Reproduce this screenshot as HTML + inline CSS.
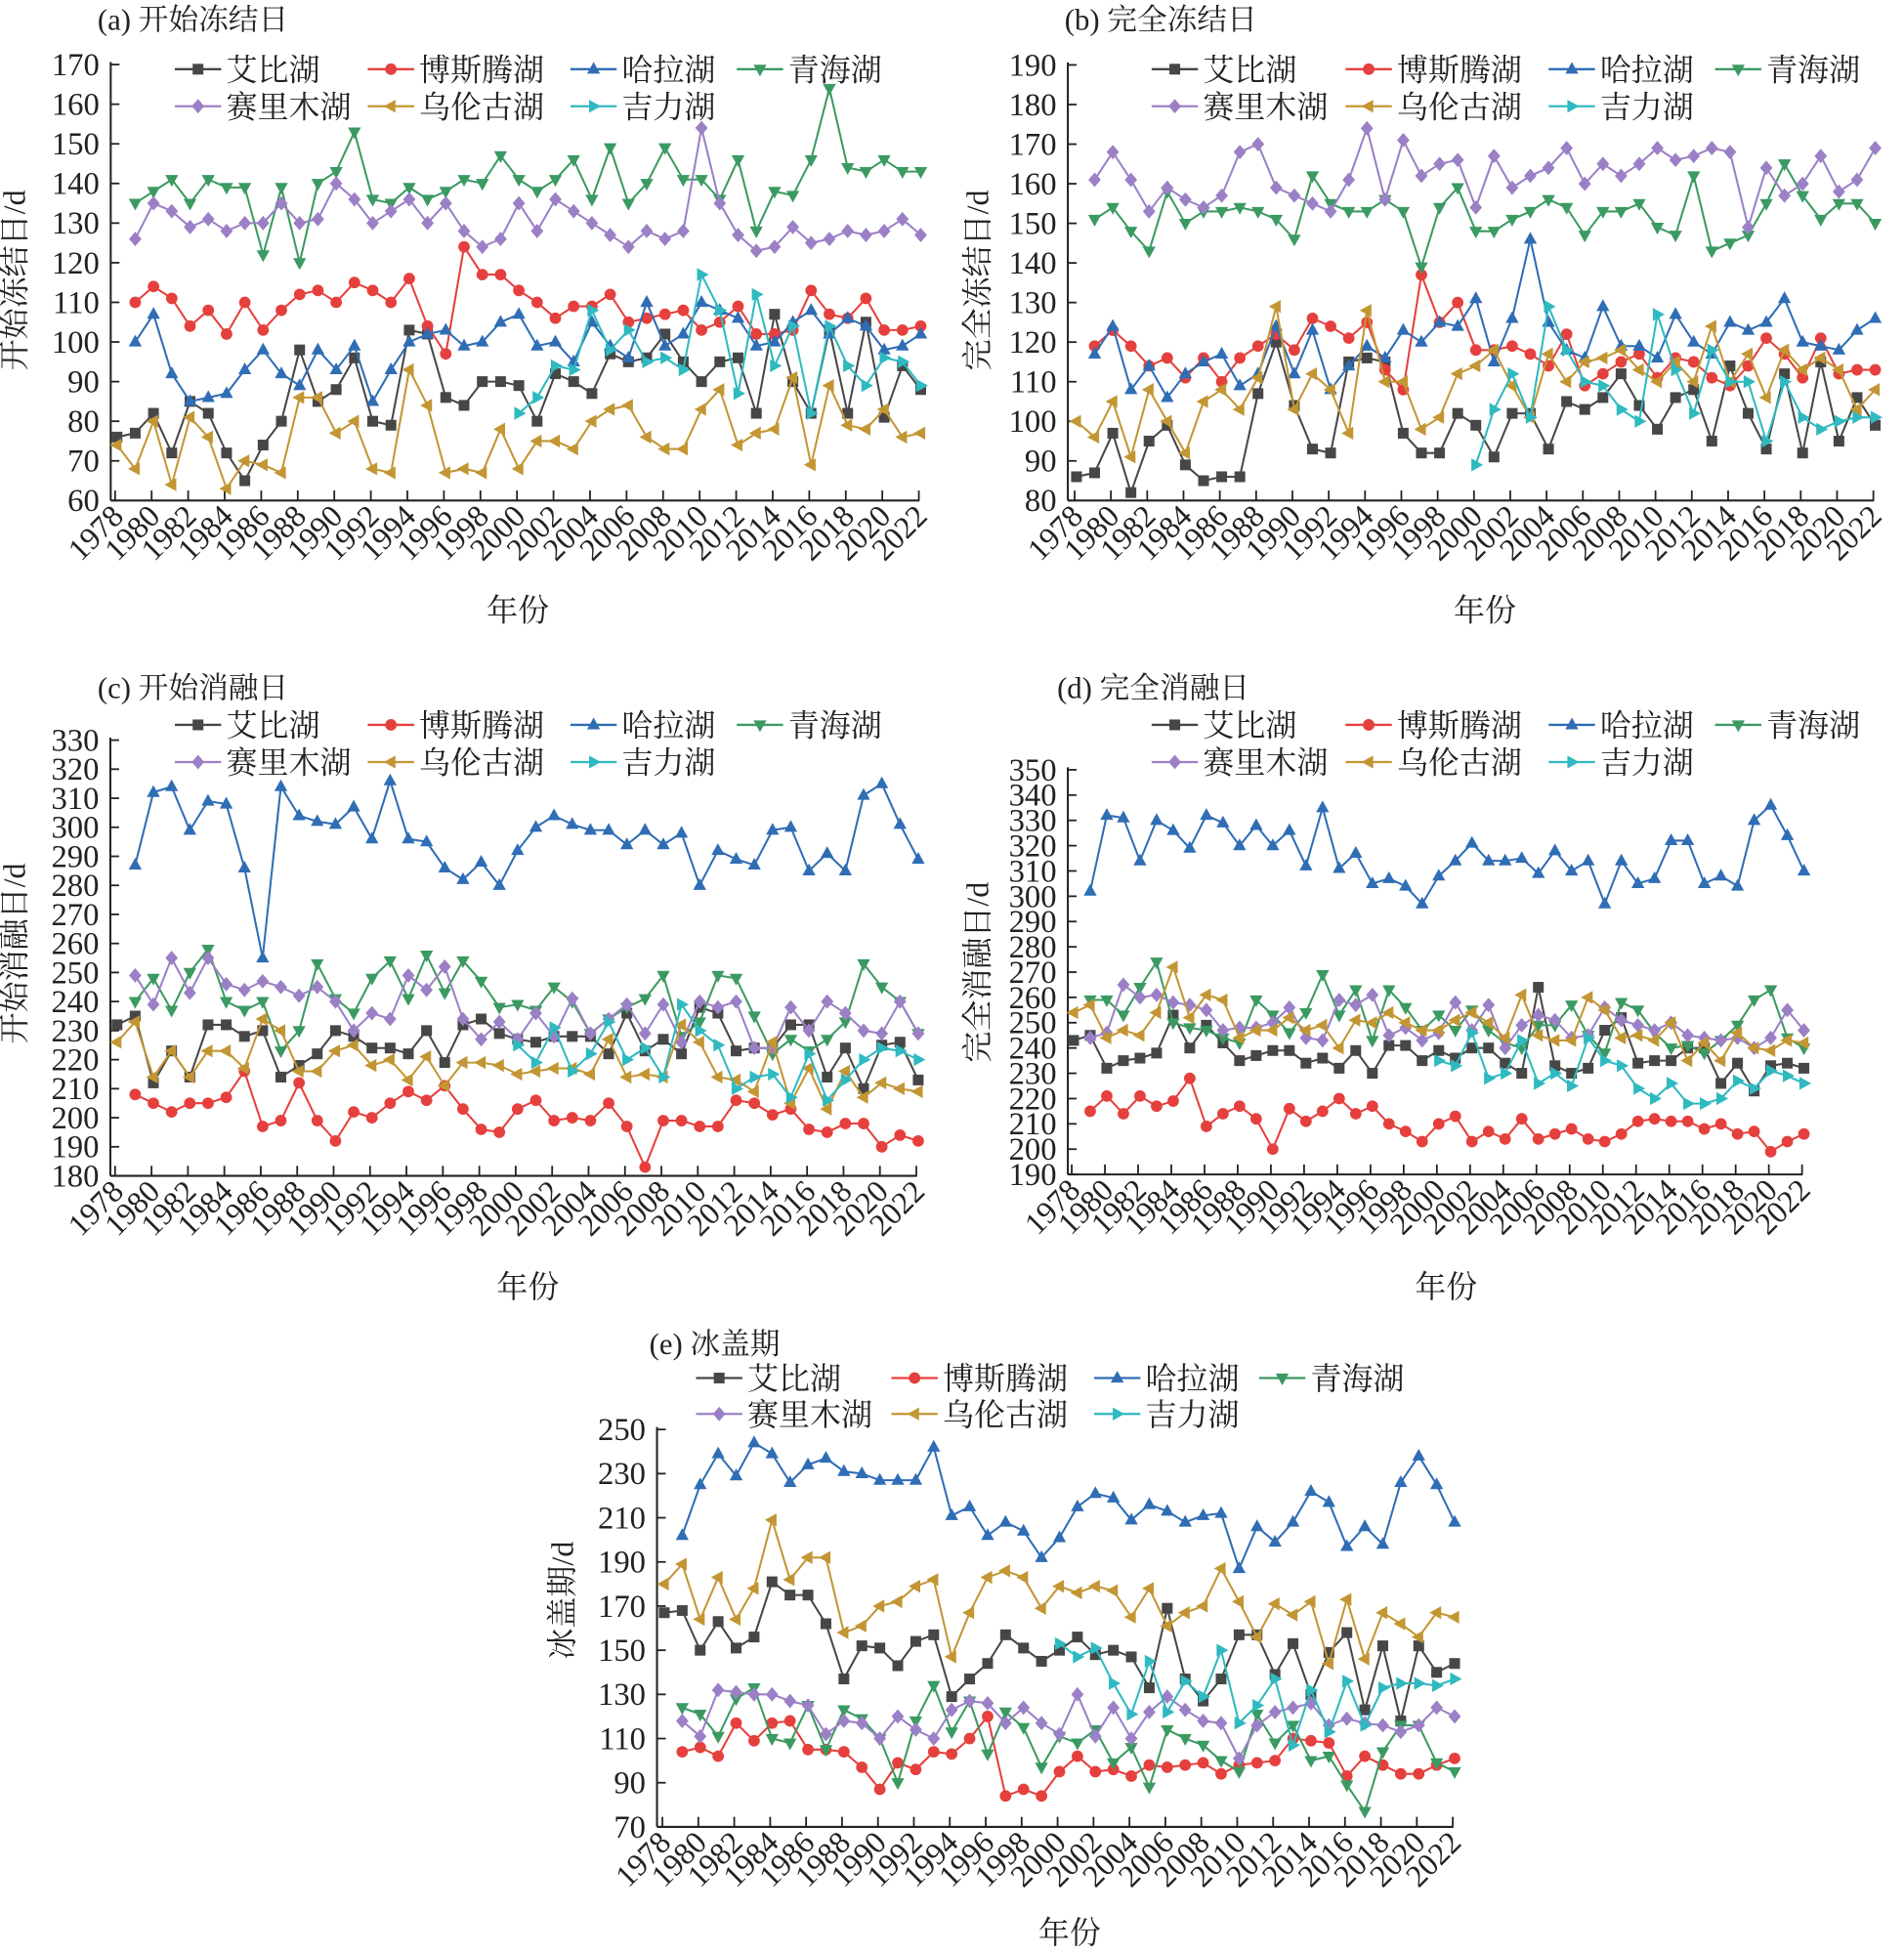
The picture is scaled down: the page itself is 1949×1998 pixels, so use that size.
<!DOCTYPE html>
<html><head><meta charset="utf-8">
<style>
html,body{margin:0;padding:0;background:#fff;}
svg{display:block;}
text{font-family:"Liberation Serif","Noto Serif CJK SC","Noto Sans CJK SC",serif;fill:#222;}
</style></head>
<body>
<svg id="s" xmlns="http://www.w3.org/2000/svg" width="1949" height="1998" viewBox="0 0 1522 1560" preserveAspectRatio="none">
<rect width="1522" height="1560" fill="#fff"/>
</svg>
<script>
var NS="http://www.w3.org/2000/svg";
var S=document.getElementById('s');
function el(t,a,p){var e=document.createElementNS(NS,t);for(var k in a)e.setAttribute(k,a[k]);(p||S).appendChild(e);return e;}
function tx(x,y,s,sz,anchor,tr){var e=el('text',{x:x,y:y,'font-size':sz,'text-anchor':anchor||'start'});if(tr)e.setAttribute('transform',tr);e.textContent=s;return e;}
var N=null;
var names=["艾比湖","博斯腾湖","哈拉湖","青海湖","赛里木湖","乌伦古湖","吉力湖"];
var cols=["#474747","#e5403d","#2f6db5","#3b9a62","#9b80c6","#c39634","#2fb9c0"];
var mk=["sq","ci","up","dn","di","lf","rt"];
function marker(x,y,t,c,g){
 if(t=="sq")el('rect',{x:x-4.3,y:y-4.3,width:8.6,height:8.6,fill:c},g);
 else if(t=="ci")el('circle',{cx:x,cy:y,r:4.6,fill:c},g);
 else{var p;
  if(t=="up")p=[[0,-5.8],[5.2,3.6],[-5.2,3.6]];
  if(t=="dn")p=[[0,5.8],[5.2,-3.6],[-5.2,-3.6]];
  if(t=="di")p=[[0,-5.8],[5,0],[0,5.8],[-5,0]];
  if(t=="lf")p=[[-5.8,0],[3.6,-5.2],[3.6,5.2]];
  if(t=="rt")p=[[5.8,0],[-3.6,-5.2],[-3.6,5.2]];
  el('polygon',{points:p.map(function(q){return (x+q[0])+","+(y+q[1]);}).join(" "),fill:c},g);}
}
function pad(start,arr){var r=[];for(var i=1978;i<start;i++)r.push(N);return r.concat(arr);}
function panel(o){
 var px=function(i){return o.x0+(o.x1-o.x0)*i/44;};
 var py=function(v){return o.yb+(v-o.vmin)*(o.yt-o.yb)/(o.vmax-o.vmin);};
 tx(o.tx,o.ty,o.title,24);
 var axEnd=px(44)-1;
 el('line',{x1:o.ax,y1:o.yt-2,x2:o.ax,y2:o.yb,stroke:"#222","stroke-width":1.6});
 el('line',{x1:o.ax,y1:o.yb,x2:axEnd,y2:o.yb,stroke:"#222","stroke-width":1.6});
 for(var v=o.vmin;v<=o.vmax;v+=o.step){var y=py(v);
  el('line',{x1:o.ax,y1:y,x2:o.ax+7,y2:y,stroke:"#222","stroke-width":1.4});
  tx(o.ax-9,y+8.5,String(v),25.5,"end");}
 for(var i=0;i<=44;i+=2){var x=px(i)-1.5;
  el('line',{x1:x,y1:o.yb,x2:x,y2:o.yb-8,stroke:"#222","stroke-width":1.4});
  tx(x+8,o.yb+14,String(1978+i),25,"end","rotate(-45 "+(x+8)+" "+(o.yb+14)+")");}
 tx(o.xlx,o.xly,"年份",25,"middle");
 tx(o.ylx,o.yly,o.ylab,25,"middle","rotate(-90 "+o.ylx+" "+o.yly+")");
 for(var s=0;s<7;s++){var d=o.data[s],pts=[];
  for(var i=0;i<45;i++)if(d[i]!==N&&d[i]!==undefined)pts.push([px(i),py(d[i])]);
  el('polyline',{points:pts.map(function(q){return q.join(",");}).join(" "),fill:"none",stroke:cols[s],"stroke-width":1.6});
  var g=el('g',{});
  pts.forEach(function(q){marker(q[0],q[1],mk[s],cols[s],g);});}
 for(var s=0;s<7;s++){var r=s<4?0:1,c=s%4;var lx=o.lg[c],ly=r?o.r2:o.r1;
  el('line',{x1:lx,y1:ly,x2:lx+37,y2:ly,stroke:cols[s],"stroke-width":1.8});
  marker(lx+18.5,ly,mk[s],cols[s]);
  tx(lx+41,ly+9,names[s],25);}
}
var A={title:"(a) 开始冻结日",tx:78,ty:24,ax:88.5,x0:93.5,x1:736,yt:51.6,yb:400,vmin:60,vmax:170,step:10,
 lg:[139.8,294,456,589],r1:55.3,r2:84.9,xlx:414,xly:496,ylx:20,yly:224,ylab:"开始冻结日/d",
 data:[
 [76,77,82,72,85,82,72,65,74,80,98,85,88,96,80,79,103,102,86,84,90,90,89,80,92,90,87,97,95,96,102,95,90,95,96,82,107,90,82,103,82,105,81,94,88],
 pad(1979,[110,114,111,104,108,102,110,103,108,112,113,110,115,113,110,116,104,97,124,117,117,113,110,106,109,109,112,105,106,107,108,103,105,109,102,102,103,113,107,106,111,103,103,104]),
 pad(1979,[100,107,92,85,86,87,93,98,92,89,98,93,99,85,93,100,102,103,99,100,105,107,99,100,95,105,99,96,110,99,102,110,108,106,99,100,105,108,102,106,104,98,99,102]),
 pad(1979,[135,138,141,135,141,139,139,122,139,120,140,143,153,136,135,139,136,138,141,140,147,141,138,141,146,136,149,135,140,149,141,141,136,146,128,138,137,146,164,144,143,146,143,143]),
 pad(1979,[126,135,133,129,131,128,130,130,135,130,131,140,136,130,133,136,130,135,128,124,126,135,128,136,133,130,127,124,128,126,128,154,135,127,123,124,129,125,126,128,127,128,131,127]),
 [74,68,80,64,81,76,63,70,69,67,86,86,77,80,68,67,93,84,67,68,67,78,68,75,75,73,80,83,84,76,73,73,83,88,74,77,78,91,69,89,79,78,83,76,77],
 pad(2000,[82,86,94,93,108,98,103,95,96,93,117,108,87,112,94,104,82,104,94,89,96,95,89])]};
var B={title:"(b) 完全冻结日",tx:851,ty:24,ax:853.6,x0:860.5,x1:1499,yt:51.9,yb:400,vmin:80,vmax:190,step:10,
 lg:[920.6,1075.6,1238,1371],r1:55.3,r2:84.9,xlx:1187,xly:496,ylx:790,yly:224,ylab:"完全冻结日/d",
 data:[
 [86,87,97,82,95,99,89,85,86,86,107,120,104,93,92,115,116,115,97,92,92,102,99,91,102,102,93,105,103,106,112,104,98,106,108,95,114,102,93,112,92,115,95,106,99],
 pad(1979,[119,123,119,114,116,111,116,110,116,119,122,118,126,124,121,125,113,108,137,125,130,118,118,119,117,114,122,109,112,115,117,111,116,115,111,109,114,121,117,111,121,112,113,113]),
 pad(1979,[117,124,108,114,106,112,115,117,109,112,124,112,123,108,114,119,116,123,120,125,124,131,115,126,146,125,118,116,129,119,119,116,127,120,117,125,123,125,131,120,119,118,123,126]),
 pad(1979,[151,154,148,143,158,150,153,153,154,153,151,146,162,155,153,153,156,153,139,154,159,148,148,151,153,156,154,147,153,153,155,149,147,162,143,145,147,155,165,157,151,155,155,150]),
 pad(1979,[161,168,161,153,159,156,154,157,168,170,159,157,155,153,161,174,156,171,162,165,166,154,167,159,162,164,169,160,165,162,165,169,166,167,169,168,149,164,157,160,167,158,161,169]),
 [100,96,105,91,108,100,92,105,108,103,111,129,103,112,108,97,128,110,110,98,101,112,114,118,109,101,117,110,115,116,118,113,110,115,110,124,110,117,106,118,113,116,113,103,108],
 pad(2000,[89,103,112,101,129,118,110,109,103,100,127,113,102,118,110,110,95,110,101,98,100,101,101])]};
var C={title:"(c) 开始消融日",tx:78,ty:558,ax:88.2,x0:93.5,x1:734,yt:591.5,yb:939.7,vmin:180,vmax:330,step:10,
 lg:[139.8,294,456,589],r1:579.3,r2:609,xlx:422,xly:1037,ylx:20,yly:762,ylab:"开始消融日/d",
 data:[
 [232,235,212,223,214,232,232,228,230,214,218,222,230,228,224,224,222,230,219,232,234,229,227,226,228,228,228,222,236,223,227,222,238,236,223,224,224,232,232,214,224,210,225,226,213],
 pad(1979,[208,205,202,205,205,207,216,197,199,212,199,192,202,200,205,209,206,211,203,196,195,203,206,199,200,199,205,197,183,199,199,197,197,206,205,201,203,196,195,198,198,190,194,192]),
 pad(1979,[287,312,314,299,309,308,286,255,314,304,302,301,307,296,316,296,295,286,282,288,280,292,300,304,301,299,299,294,299,294,298,280,292,289,287,299,300,285,291,285,311,315,301,289]),
 pad(1979,[240,248,237,250,258,240,237,240,223,230,253,241,236,248,254,241,256,243,254,247,238,239,237,245,240,229,234,238,241,249,228,233,249,248,235,222,227,223,227,233,253,245,240,229]),
 pad(1979,[249,239,255,243,255,246,244,247,245,242,245,240,230,236,234,249,244,252,234,227,233,227,236,228,241,229,234,239,229,239,226,240,238,240,224,224,238,230,240,236,230,229,240,229]),
 [226,233,214,223,214,223,223,217,234,230,216,216,223,225,218,220,213,221,211,219,219,218,215,216,217,217,215,227,214,215,214,232,226,214,213,209,226,205,217,203,216,207,212,210,209],
 pad(2000,[225,219,231,216,222,233,220,224,214,239,230,225,210,214,215,207,222,206,213,220,224,223,220])]};
var D={title:"(d) 完全消融日",tx:845,ty:558,ax:853.6,x0:858.2,x1:1442,yt:615.2,yb:938.6,vmin:190,vmax:350,step:10,
 lg:[920.6,1075.6,1238,1371],r1:579.3,r2:609,xlx:1156,xly:1037,ylx:790,yly:777,ylab:"完全消融日/d",
 data:[
 [243,245,232,235,236,238,253,240,249,242,235,237,239,239,234,236,232,239,230,241,241,235,239,236,240,240,234,230,264,233,230,232,247,252,234,235,235,240,240,226,234,223,233,234,232],
 pad(1979,[215,221,214,221,217,219,228,209,214,217,212,200,216,211,215,220,214,217,210,207,203,210,213,203,207,204,212,204,206,208,204,203,206,211,212,211,211,208,210,206,207,199,203,206]),
 pad(1979,[302,332,331,314,330,326,319,332,329,320,328,320,326,312,335,311,317,305,307,304,297,308,314,321,314,314,315,309,318,310,314,297,314,305,307,322,322,305,308,304,330,336,324,310]),
 pad(1979,[259,259,253,264,274,250,248,247,244,242,259,253,246,254,269,253,263,243,263,256,247,253,247,255,247,242,240,249,249,257,245,238,258,255,246,240,241,238,243,249,259,263,244,240]),
 pad(1979,[244,246,265,260,261,258,257,255,247,248,248,250,256,244,243,259,257,261,245,248,243,246,258,247,257,240,249,253,251,244,245,256,251,249,247,250,245,244,243,244,240,244,255,247]),
 [254,257,244,247,245,254,272,252,261,259,244,247,247,252,247,249,240,251,250,254,250,247,247,251,254,250,244,261,245,243,243,260,255,244,245,243,250,235,242,235,246,240,239,243,242],
 pad(2000,[235,233,246,228,230,243,226,230,225,244,235,233,224,220,226,218,218,220,227,224,231,229,226])]};
var E={title:"(e) 冰盖期",tx:519,ty:1082,ax:525.2,x0:531,x1:1162.8,yt:1142.4,yb:1460,vmin:70,vmax:250,step:20,
 lg:[556.4,712.6,874.6,1006.5],r1:1101.3,r2:1130,xlx:855,xly:1553,ylx:458,yly:1279,ylab:"冰盖期/d",
 data:[
 [167,168,150,163,151,156,181,175,175,162,137,152,151,143,154,157,129,137,144,157,151,145,150,156,148,150,147,133,169,137,127,137,157,157,139,153,130,149,158,123,152,118,152,140,144],
 pad(1979,[104,106,102,117,109,117,118,105,105,104,97,87,99,96,104,103,110,120,84,87,84,95,102,95,96,93,98,97,98,99,94,98,99,100,110,109,108,93,102,98,94,94,98,101]),
 pad(1979,[202,225,239,229,244,239,226,234,237,231,230,227,227,227,242,211,215,202,208,204,192,201,215,221,219,209,216,213,208,211,212,187,206,199,208,222,217,197,206,198,226,238,225,208]),
 pad(1979,[124,121,111,128,133,110,108,125,105,123,119,110,90,118,134,113,127,103,122,115,97,111,108,114,99,106,88,114,110,107,100,95,121,108,116,100,102,89,77,104,116,116,99,95]),
 pad(1979,[118,111,132,131,130,130,127,125,112,118,117,110,120,114,110,123,127,126,117,124,117,112,130,111,124,110,122,129,123,118,117,101,116,122,124,126,116,119,117,116,113,116,124,120]),
 [180,189,164,183,164,178,209,182,192,192,158,161,170,172,179,182,147,167,183,186,183,169,179,176,179,177,165,178,161,167,170,187,172,156,171,166,172,144,173,146,167,162,156,167,165],
 pad(2000,[153,147,151,135,121,145,122,136,129,150,117,125,137,107,132,113,136,116,133,135,135,134,137])]};
[A,B,C,D,E].forEach(panel);
</script>
</body></html>
